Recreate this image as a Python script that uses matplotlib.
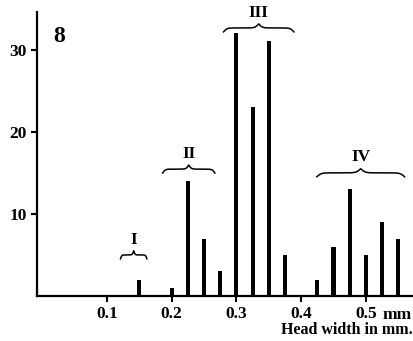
import numpy as np
import matplotlib
matplotlib.use("Agg")
import matplotlib.pyplot as plt
import matplotlib.transforms as mtransforms

# head width classes (mm) and counts
widths = [0.15, 0.20, 0.225, 0.25, 0.275, 0.30, 0.325, 0.35, 0.375,
          0.425, 0.45, 0.475, 0.50, 0.525, 0.55]
counts = [2, 1, 14, 7, 3, 32, 23, 31, 5, 2, 6, 13, 5, 9, 7]

# instar groups: label, start, end, brace level
group_labels = ["I", "II", "III", "IV"]
group_start = [0.121, 0.186, 0.280, 0.424]
group_end = [0.162, 0.267, 0.389, 0.560]
group_level = [5.0, 15.45, 32.65, 15.0]

xticks = [0.1, 0.2, 0.3, 0.4, 0.5]
yticks = [10, 20, 30]

plt.rcParams["font.family"] = ["Liberation Serif", "DejaVu Serif"]
plt.rcParams["font.weight"] = "bold"

FS = 12.5


def draw_brace(ax, x0, x1, y, height=1.0):
    # curly brace, tips down, point up in the middle
    n = 201
    span = x1 - x0
    beta = 40.0 / span
    x = np.linspace(x0, x1, n)
    half = x[: n // 2 + 1]
    yh = (1 / (1 + np.exp(-beta * (half - half[0])))
          + 1 / (1 + np.exp(-beta * (half - half[-1]))))
    yy = np.concatenate((yh, yh[-2::-1]))
    ax.plot(x, y + (yy - 1.0) * height, color="black", lw=1.1,
            solid_capstyle="round", clip_on=False)


fig = plt.figure(figsize=(4.14, 3.41), dpi=100)
ax = fig.add_axes([0.089, 0.132, 0.909, 0.833])

ax.bar(widths, counts, width=0.0062, color="black")

for lab, a, b, lev in zip(group_labels, group_start, group_end, group_level):
    draw_brace(ax, a, b, lev)
    ax.text((a + b) / 2, lev + 0.9, lab, ha="center", va="bottom",
            fontsize=12.5, fontweight="bold")

ax.set_xlim(-0.008, 0.573)
ax.set_ylim(0, 34.6)
ax.set_xticks(xticks)
ax.set_xticklabels([f"{t:.1f}" for t in xticks])
ax.set_yticks(yticks)

for side in ("top", "right"):
    ax.spines[side].set_visible(False)
for side in ("left", "bottom"):
    ax.spines[side].set_linewidth(1.6)

ax.tick_params(axis="both", direction="out", length=4.5, width=1.5,
               labelsize=FS, pad=2.5)
for lbl in ax.get_xticklabels() + ax.get_yticklabels():
    lbl.set_fontweight("bold")

# unit after the last tick label
trans = mtransforms.blended_transform_factory(ax.transData, ax.transAxes)
ax.text(0.525, -0.066, "mm", transform=trans, ha="left", va="center",
        fontsize=FS, fontweight="bold", clip_on=False)
ax.text(0.998, -0.118, "Head width in mm.", transform=ax.transAxes,
        ha="right", va="center", fontsize=11.5, fontweight="bold")

ax.text(0.043, 0.915, "8", transform=ax.transAxes, ha="left", va="center",
        fontsize=17, fontweight="bold")

fig.savefig("out.png", dpi=100)
